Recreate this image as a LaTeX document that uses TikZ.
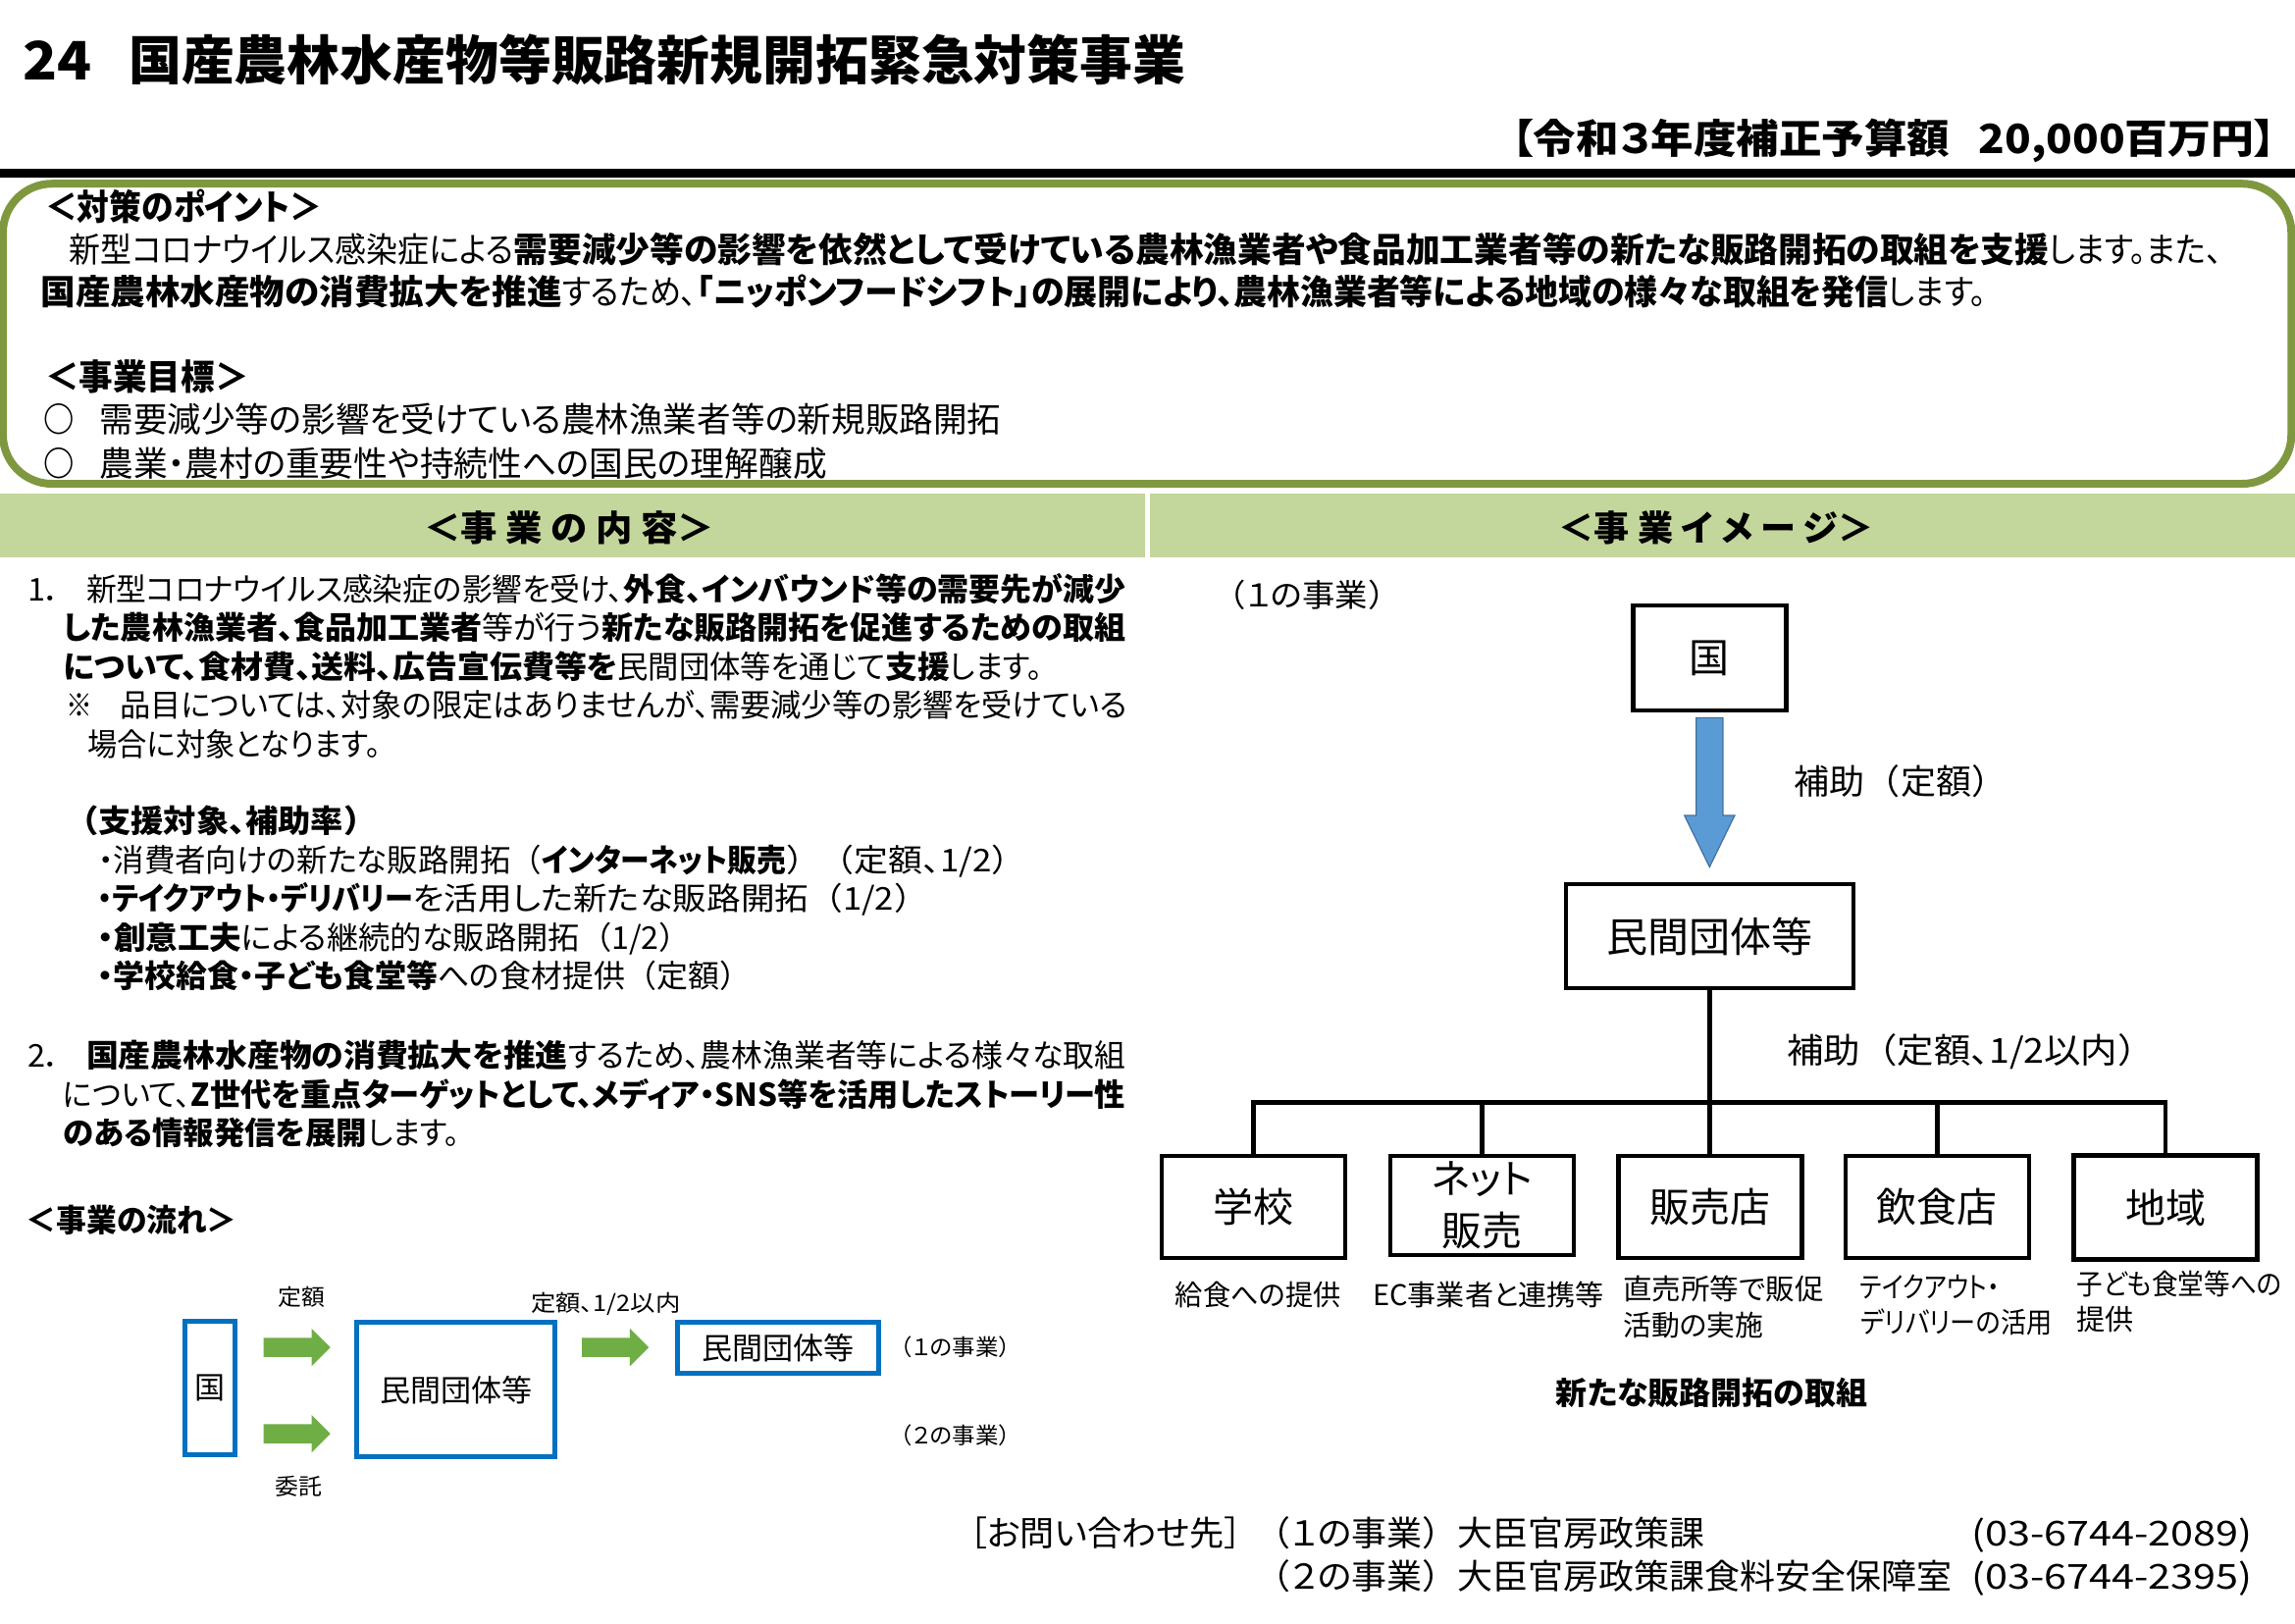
\documentclass[tikz,border=0pt]{standalone}
\usepackage{fontspec}
\setmainfont{Noto Sans CJK JP}[RawFeature=+palt]
\newfontfamily\widefont{Noto Sans CJK JP}
\usepackage{graphicx}
\usetikzlibrary{shapes.arrows}
\definecolor{pointgreen}{HTML}{7F983F}
\definecolor{bandgreen}{HTML}{C3D69B}
\definecolor{flowblue}{HTML}{0070C0}
\definecolor{flowgreen}{HTML}{6FAE45}
\definecolor{arrowblue}{HTML}{5B9BD5}
\definecolor{arrowedge}{HTML}{41719C}
\tikzset{
txt/.style={inner sep=0,outer sep=0,anchor=base west},
fa/.style={txt,font=\fontsize{35}{35}\selectfont,yshift=-14pt},
fb/.style={txt,font=\fontsize{32}{32}\selectfont,yshift=-13pt},
fc/.style={txt,font=\fontsize{29}{29}\selectfont,yshift=-11.6pt},
fd/.style={txt,font=\fontsize{23}{23}\selectfont,yshift=-9.3pt},
fe/.style={txt,font=\fontsize{36}{36}\selectfont,yshift=-14.4pt},
kbox/.style={draw=black,line width=4.6pt,inner sep=0,font=\fontsize{41}{53}\selectfont,align=center},
fbox/.style={draw=flowblue,line width=5pt,inner sep=0,font=\fontsize{31}{31}\selectfont},
greenarrow/.style={single arrow,fill=flowgreen,inner sep=0,inner ysep=9.5pt,anchor=tail,minimum width=38pt,minimum height=68pt,single arrow head extend=9.5pt},
treeline/.style={line width=4.6pt}
}
\newcommand{\wlp}{{\widefont （}}
\newcommand{\wrp}{{\widefont ）}}
\newcommand{\tline}[6][fa]{\pgfmathsetlengthmacro{\tw}{(#4-#3)*1.49171}%
\node[#1] (#2) at (#3,#5) {\resizebox{\tw}{\height}{#6}};}
\begin{document}
\begin{tikzpicture}[x=1.49171pt,y=-1.49171pt]
\useasboundingbox (0,0) rectangle (1568,1109);
\fill[black] (0,115.5) rectangle (1568,121.5);
\draw[pointgreen,line width=8pt,rounded corners=50pt] (2,125.5) rectangle (1565.5,330.5);
\fill[bandgreen] (0,337.5) rectangle (782,381);
\fill[bandgreen] (786,337.5) rectangle (1568,381);
\tline[txt,font=\fontsize{54}{54}\selectfont\bfseries,yshift=-20.4pt]{titlenum}{16}{63}{41}{24}
\tline[txt,font=\fontsize{54}{54}\selectfont\bfseries,yshift=-20.4pt]{titletext}{88}{810}{41}{国産農林水産物等販路新規開拓緊急対策事業}
\tline[txt,font=\fontsize{41}{41}\selectfont\bfseries,yshift=-15.8pt]{budgeta}{1033}{1332}{94}{【令和３年度補正予算額}
\tline[txt,font=\fontsize{41}{41}\selectfont\bfseries,yshift=-15.8pt]{budgetb}{1352}{1555}{94}{20,000百万円】}
\tline[fe]{pointhead}{31}{220}{141}{\textbf{＜対策のポイント＞}}
\tline{pointa}{47.5}{351}{170}{新型コロナウイルス感染症による}
\tline{pointb}{351}{1400}{170}{\textbf{需要減少等の影響を依然として受けている農林漁業者や食品加工業者等の新たな販路開拓の取組を支援}}
\tline{pointc}{1400}{1518}{170}{します。また、}
\tline{pointd}{28}{384}{199}{\textbf{国産農林水産物の消費拡大を推進}}
\tline{pointe}{384}{476}{199}{するため、}
\tline{pointf}{476}{1290}{199}{\textbf{「ニッポンフードシフト」の展開により、農林漁業者等による地域の様々な取組を発信}}
\tline{pointg}{1290}{1357}{199}{します。}
\tline[fe]{goalhead}{31}{170}{257}{\textbf{＜事業目標＞}}
\tline{marka}{30}{51}{286}{\textbf{○}}
\tline{goala}{68}{684}{286}{需要減少等の影響を受けている農林漁業者等の新規販路開拓}
\tline{markb}{30}{51}{316}{\textbf{○}}
\tline{goalb}{68}{565}{316}{農業・農村の重要性や持続性への国民の理解醸成}
\tline[fe]{bandleft}{290}{488}{360}{\textbf{＜事\ 業\ の\ 内\ 容＞}}
\tline[fe]{bandright}{1065}{1280}{360}{\textbf{＜事\ 業\ イ\ メ\ ー\ ジ＞}}
\tline[fb]{numa}{19}{42}{402}{1．}
\tline[fb]{conta}{59}{426}{402}{新型コロナウイルス感染症の影響を受け、}
\tline[fb]{contaa}{426}{769}{402}{\textbf{外食、インバウンド等の需要先が減少}}
\tline[fb]{contb}{43}{769}{428}{\textbf{した農林漁業者、食品加工業者}等が行う\textbf{新たな販路開拓を促進するための取組}}
\tline[fb]{contc}{43}{422}{455}{\textbf{について、食材費、送料、広告宣伝費等を}}
\tline[fb]{contca}{422}{605}{455}{民間団体等を通じて}
\tline[fb]{contcb}{605}{649}{455}{\textbf{支援}}
\tline[fb]{contcc}{649}{712}{455}{します。}
\tline[fb]{notea}{45}{63}{481}{※}
\tline[fb]{contd}{82}{770}{481}{品目については、対象の限定はありませんが、需要減少等の影響を受けている}
\tline[fb]{conte}{60}{260}{508}{場合に対象となります。}
\tline[fb]{suphead}{45}{257}{560}{\textbf{\wlp 支援対象、補助率\wrp}}
\tline[fb]{supa}{67}{370}{587}{・消費者向けの新たな販路開拓\wlp}
\tline[fb]{supaa}{370}{537}{587}{\textbf{インターネット販売}}
\tline[fb]{supab}{537}{701}{587}{\wrp\wlp 定額、1/2\wrp}
\tline[fb]{supb}{67}{282}{613}{\textbf{・テイクアウト・デリバリー}}
\tline[fb]{supba}{282}{634}{613}{を活用した新たな販路開拓\wlp 1/2\wrp}
\tline[fb]{supc}{67}{165}{640}{\textbf{・創意工夫}}
\tline[fb]{supca}{165}{472}{640}{による継続的な販路開拓\wlp 1/2\wrp}
\tline[fb]{supd}{67}{299}{666}{\textbf{・学校給食・子ども食堂等}}
\tline[fb]{supda}{299}{513}{666}{への食材提供\wlp 定額\wrp}
\tline[fb]{numb}{19}{42}{720}{2．}
\tline[fb]{contf}{59}{388}{720}{\textbf{国産農林水産物の消費拡大を推進}}
\tline[fb]{contfa}{388}{769}{720}{するため、農林漁業者等による様々な取組}
\tline[fb]{contg}{43}{769}{747}{について、\textbf{Z世代を重点ターゲットとして、メディア・SNS等を活用したストーリー性}}
\tline[fb]{conth}{43}{251}{773}{\textbf{のある情報発信を展開}}
\tline[fb]{contha}{251}{314}{773}{します。}
\tline[fb]{flowhead}{18}{162}{833}{\textbf{＜事業の流れ＞}}
\node[fbox,minimum width=51pt,minimum height=136pt] (fkuni) at (143.5,948.5) {国};
\node[fbox,minimum width=202pt,minimum height=137pt] (fdan) at (311.5,949.5) {民間団体等};
\node[fbox,minimum width=205pt,minimum height=52pt] (fdanb) at (531.5,921) {民間団体等};
\node[greenarrow] (fa) at (180,920.5) {};
\node[greenarrow] (fb) at (180,979.5) {};
\node[greenarrow] (fc) at (397.5,920.5) {};
\tline[fd]{flabela}{190}{222}{886}{定額}
\tline[fd]{flabelb}{188}{220}{1015}{委託}
\tline[fd]{flabelc}{363}{465}{890}{定額、1/2以内}
\tline[fd]{fproja}{608}{698}{920}{\wlp １の事業\wrp}
\tline[fd]{fprojb}{608}{698}{980}{\wlp ２の事業\wrp}
\tline[fb]{imghead}{829}{957}{406}{\wlp １の事業\wrp}
\node[kbox,minimum width=156pt,minimum height=107pt] (kuni) at (1168,449.5) {国};
\node[kbox,minimum width=293pt,minimum height=106pt,font=\fontsize{42}{42}\selectfont] (dantai) at (1168,639.5) {民間団体等};
\node[single arrow,rotate=-90,fill=arrowblue,draw=arrowedge,line width=1.2pt,inner sep=0,inner ysep=13pt,anchor=tail,minimum width=51pt,minimum height=152pt,single arrow head extend=12pt,single arrow tip angle=52] (subsidy) at (1168,490) {};
\tline[fa]{labela}{1226}{1371}{533}{補助\wlp 定額\wrp}
\tline[fa]{labelb}{1221}{1472}{717}{補助\wlp 定額、1/2以内\wrp}
\node[kbox,minimum width=187pt,minimum height=104pt] (school) at (856.5,824.5) {学校};
\node[kbox,minimum width=187pt,minimum height=101pt] (net) at (1012.5,823.5) {ネット\\販売};
\node[kbox,minimum width=187pt,minimum height=104pt] (shop) at (1168.5,824.5) {販売店};
\node[kbox,minimum width=187pt,minimum height=104pt] (food) at (1323.5,824.5) {飲食店};
\node[kbox,minimum width=187pt,minimum height=106pt] (area) at (1479.5,825) {地域};
\coordinate (bus) at (1168,753);
\draw[treeline] (dantai) -- (bus);
\draw[treeline] (bus) -- (bus |- shop.north);
\draw[treeline] (bus) -| (school.north);
\draw[treeline] (bus) -| (net.north);
\draw[treeline] (bus) -| (food.north);
\draw[treeline] (bus) -| (area.north);
\tline[fc]{capa}{803}{916}{884}{給食への提供}
\tline[fc]{capb}{938}{1096}{884}{EC事業者と連携等}
\tline[fc]{capc}{1109}{1246}{880}{直売所等で販促}
\tline[fc]{capd}{1109}{1205}{905}{活動の実施}
\tline[fc]{cape}{1271}{1366}{879}{テイクアウト・}
\tline[fc]{capf}{1271}{1402}{903}{デリバリーの活用}
\tline[fc]{capg}{1419}{1559}{877}{子ども食堂等への}
\tline[fc]{caph}{1419}{1458}{901}{提供}
\tline[fb]{newroute}{1063}{1276}{951}{\textbf{新たな販路開拓の取組}}
\tline{contact}{651}{860}{1047}{{\widefont ［}お問い合わせ先{\widefont ］}}
\tline{prja}{858}{996}{1047}{\wlp １の事業\wrp}
\tline{offa}{996}{1165}{1047}{大臣官房政策課}
\tline{tela}{1347}{1539}{1047}{(03-6744-2089)}
\tline{prjb}{858}{996}{1076}{\wlp ２の事業\wrp}
\tline{offb}{996}{1334}{1076}{大臣官房政策課食料安全保障室}
\tline{telb}{1347}{1539}{1076}{(03-6744-2395)}
\end{tikzpicture}
\end{document}
